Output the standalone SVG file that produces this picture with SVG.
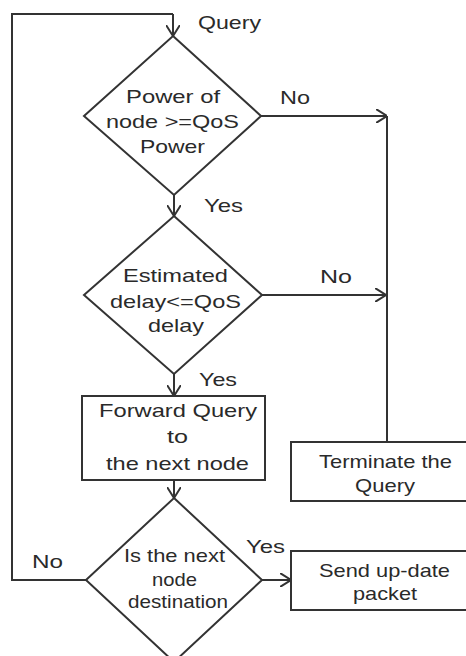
<svg xmlns="http://www.w3.org/2000/svg" width="466" height="656" viewBox="0 0 466 656">
<style>
.s{fill:#fff;stroke:#333;stroke-width:2}
.c{fill:none;stroke:#333;stroke-width:2}
text{font-family:"Liberation Sans",Arial,sans-serif;font-size:19px;fill:#2a2a2a}
</style>
<defs>
<marker id="a" viewBox="0 0 11 14" refX="11" refY="7" markerWidth="11" markerHeight="14" markerUnits="userSpaceOnUse" orient="auto">
<path d="M0,0 L11,7 L0,14" fill="none" stroke="#333" stroke-width="2"/>
</marker>
</defs>
<rect width="466" height="656" fill="#fff"/>
<g id="connectors">
<path class="c" d="M173,14 L12,14 L12,580 L86,580"/>
<path class="c" d="M173,14 L173,36" marker-end="url(#a)"/>
<path class="c" d="M261,116 L387,116" marker-end="url(#a)"/>
<path class="c" d="M174,195 L174,216" marker-end="url(#a)"/>
<path class="c" d="M262,295 L386,295" marker-end="url(#a)"/>
<path class="c" d="M387,116 L387,442"/>
<path class="c" d="M174,374 L174,396" marker-end="url(#a)"/>
<path class="c" d="M174,480 L174,498" marker-end="url(#a)"/>
<path class="c" d="M262,580 L291,580" marker-end="url(#a)"/>
<text x="198" y="29" textLength="63" lengthAdjust="spacingAndGlyphs">Query</text>
<text x="280" y="104" textLength="30" lengthAdjust="spacingAndGlyphs">No</text>
<text x="204" y="212" textLength="39" lengthAdjust="spacingAndGlyphs">Yes</text>
<text x="320" y="283" textLength="32" lengthAdjust="spacingAndGlyphs">No</text>
<text x="199" y="386" textLength="38" lengthAdjust="spacingAndGlyphs">Yes</text>
<text x="32" y="568" textLength="31" lengthAdjust="spacingAndGlyphs">No</text>
<text x="246" y="553" textLength="39" lengthAdjust="spacingAndGlyphs">Yes</text>
</g>
<g id="d1">
<polygon class="s" points="173,36 261,116 174,195 84,116"/>
<text x="126" y="103" textLength="94" lengthAdjust="spacingAndGlyphs">Power of</text>
<text x="106" y="128" textLength="133" lengthAdjust="spacingAndGlyphs">node &gt;=QoS</text>
<text x="140" y="153" textLength="65" lengthAdjust="spacingAndGlyphs">Power</text>
</g>
<g id="d2">
<polygon class="s" points="174,216 262,295 174,374 84,295"/>
<text x="123" y="282" textLength="105" lengthAdjust="spacingAndGlyphs">Estimated</text>
<text x="110" y="308" textLength="131" lengthAdjust="spacingAndGlyphs">delay&lt;=QoS</text>
<text x="148" y="332" textLength="56" lengthAdjust="spacingAndGlyphs">delay</text>
</g>
<g id="forward">
<rect class="s" x="82" y="396" width="183" height="84"/>
<text x="99" y="417" textLength="158" lengthAdjust="spacingAndGlyphs">Forward Query</text>
<text x="167" y="443" textLength="21" lengthAdjust="spacingAndGlyphs">to</text>
<text x="106" y="470" textLength="143" lengthAdjust="spacingAndGlyphs">the next node</text>
</g>
<g id="terminate">
<rect class="s" x="291" y="442" width="180" height="59"/>
<text x="319" y="468" textLength="133" lengthAdjust="spacingAndGlyphs">Terminate the</text>
<text x="355" y="492" textLength="60" lengthAdjust="spacingAndGlyphs">Query</text>
</g>
<g id="d3">
<polygon class="s" points="174,498 262,580 174,662 86,580"/>
<text x="124" y="562" textLength="101" lengthAdjust="spacingAndGlyphs">Is the next</text>
<text x="152" y="586" textLength="45" lengthAdjust="spacingAndGlyphs">node</text>
<text x="128" y="608" textLength="100" lengthAdjust="spacingAndGlyphs">destination</text>
</g>
<g id="send">
<rect class="s" x="291" y="551" width="180" height="59"/>
<text x="319" y="577" textLength="131" lengthAdjust="spacingAndGlyphs">Send up-date</text>
<text x="353" y="600" textLength="64" lengthAdjust="spacingAndGlyphs">packet</text>
</g>
</svg>
